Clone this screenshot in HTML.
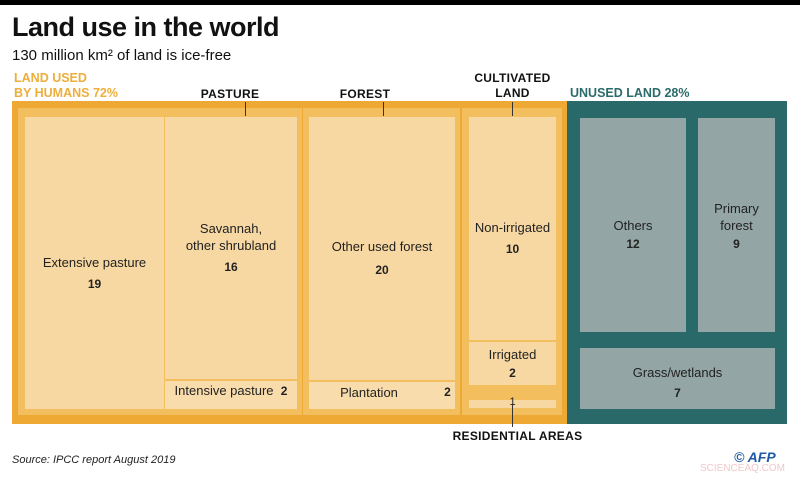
<!DOCTYPE html>
<html><head><style>
body{margin:0;width:800px;height:478px;background:#fff;position:relative;overflow:hidden;font-family:"Liberation Sans",sans-serif;}
div{position:absolute;box-sizing:border-box;}
.t{background:#f8d8a2;}
.g{background:#f3be5e;}
.gr{background:#93a5a5;}
.lb{color:#222;font-size:13px;text-align:center;line-height:17px;}
.n{font-weight:bold;font-size:12px;}
.sc{font-weight:bold;font-size:12px;letter-spacing:0.3px;color:#111;text-align:center;line-height:15px;white-space:nowrap;}
.tick{width:1px;background:#333;}
</style></head><body>
<div style="left:0;top:0;width:800px;height:5px;background:#000"></div>
<div style="left:12px;top:12px;font-size:27px;font-weight:bold;color:#111;letter-spacing:-0.5px">Land use in the world</div>
<div style="left:12px;top:47px;font-size:15px;color:#111">130 million km² of land is ice-free</div>
<div style="left:14px;top:71px;font-size:12.5px;font-weight:bold;color:#eeae3c;line-height:15px">LAND USED<br>BY HUMANS 72%</div>
<div class="sc" style="left:190px;top:87px;width:80px">PASTURE</div>
<div class="sc" style="left:325px;top:87px;width:80px">FOREST</div>
<div class="sc" style="left:465px;top:71px;width:95px">CULTIVATED<br>LAND</div>
<div style="left:570px;top:86px;font-size:12.5px;font-weight:bold;color:#2b6b6a">UNUSED LAND 28%</div>

<div style="left:12px;top:101px;width:555px;height:323px;background:#eea934"></div>
<div style="left:567px;top:101px;width:220px;height:323px;background:#29696a"></div>

<div class="g" style="left:18px;top:108px;width:284px;height:307px"></div>
<div class="g" style="left:303px;top:108px;width:157px;height:307px"></div>
<div class="g" style="left:462px;top:108px;width:100px;height:307px"></div>

<div class="t" style="left:25px;top:117px;width:139px;height:292px"></div>
<div class="t" style="left:165px;top:117px;width:132px;height:262px"></div>
<div class="t" style="left:165px;top:381px;width:132px;height:28px;background:#f9dcab"></div>
<div class="t" style="left:309px;top:117px;width:146px;height:263px"></div>
<div class="t" style="left:309px;top:382px;width:146px;height:27px;background:#f9dcab"></div>
<div class="t" style="left:469px;top:117px;width:87px;height:223px"></div>
<div class="t" style="left:469px;top:342px;width:87px;height:43px"></div>
<div class="t" style="left:469px;top:400px;width:87px;height:8px"></div>

<div class="gr" style="left:580px;top:118px;width:106px;height:214px"></div>
<div class="gr" style="left:698px;top:118px;width:77px;height:214px"></div>
<div class="gr" style="left:580px;top:348px;width:195px;height:61px"></div>

<div class="tick" style="left:245px;top:102px;height:14px"></div>
<div class="tick" style="left:383px;top:102px;height:14px"></div>
<div class="tick" style="left:512px;top:102px;height:14px"></div>
<div class="tick" style="left:512px;top:405px;height:22px"></div>

<div class="lb" style="left:25px;top:254px;width:139px">Extensive pasture</div>
<div class="lb n" style="left:25px;top:276px;width:139px">19</div>
<div class="lb" style="left:165px;top:220px;width:132px">Savannah,<br>other shrubland</div>
<div class="lb n" style="left:165px;top:259px;width:132px">16</div>
<div class="lb" style="left:165px;top:382px;width:132px">Intensive pasture&nbsp; <span class="n">2</span></div>
<div class="lb" style="left:309px;top:238px;width:146px">Other used forest</div>
<div class="lb n" style="left:309px;top:262px;width:146px">20</div>
<div class="lb" style="left:309px;top:384px;width:120px">Plantation</div>
<div class="lb n" style="left:440px;top:384px;width:15px">2</div>
<div class="lb" style="left:466px;top:219px;width:93px">Non-irrigated</div>
<div class="lb n" style="left:469px;top:241px;width:87px">10</div>
<div class="lb" style="left:469px;top:346px;width:87px">Irrigated</div>
<div class="lb n" style="left:469px;top:365px;width:87px">2</div>
<div class="lb" style="left:469px;top:396px;width:87px;font-size:11px;line-height:12px">1</div>
<div class="sc" style="left:450px;top:429px;width:135px">RESIDENTIAL AREAS</div>

<div class="lb" style="left:580px;top:217px;width:106px">Others</div>
<div class="lb n" style="left:580px;top:236px;width:106px">12</div>
<div class="lb" style="left:698px;top:200px;width:77px">Primary<br>forest</div>
<div class="lb n" style="left:698px;top:236px;width:77px">9</div>
<div class="lb" style="left:580px;top:364px;width:195px">Grass/wetlands</div>
<div class="lb n" style="left:580px;top:385px;width:195px">7</div>

<div style="left:12px;top:454px;font-size:11px;font-style:italic;color:#222">Source: IPCC report August 2019</div>
<div style="left:734px;top:449px;font-size:14px;font-weight:bold;font-style:italic;color:#1f5aa6">© AFP</div>
<div style="left:700px;top:463px;font-size:10px;color:#f0c8cc">SCIENCEAQ.COM</div>
</body></html>
